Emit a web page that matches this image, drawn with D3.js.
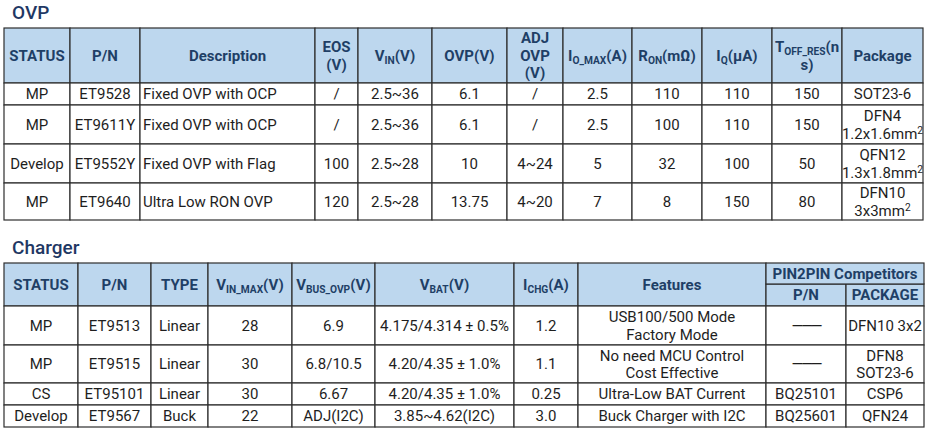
<!DOCTYPE html>
<html>
<head>
<meta charset="utf-8">
<script src="https://cdn.jsdelivr.net/npm/d3@7"></script>
<style>
  html, body { margin: 0; padding: 0; background: #fff; }
  svg { display: block; font-family: Roboto, "Open Sans", sans-serif; }
</style>
</head>
<body>
<div id="chart"></div>
<script>
// Tables OVP + Charger
// markup: _{..} = indice, ^{..} = exposant, \n = retour à la ligne

const ovpTitle = "OVP";
const ovpHeaders = [
  "STATUS", "P/N", "Description", "EOS\n(V)", "V_{IN}(V)", "OVP(V)",
  "ADJ\nOVP\n(V)", "I_{O_MAX}(A)", "R_{ON}(mΩ)", "I_{Q}(μA)", "T_{OFF_RES}(n\ns)", "Package"
];
const ovpRows = [
  ["MP", "ET9528", "Fixed OVP with OCP", "/", "2.5~36", "6.1", "/", "2.5", "110", "110", "150", "SOT23-6"],
  ["MP", "ET9611Y", "Fixed OVP with OCP", "/", "2.5~36", "6.1", "/", "2.5", "100", "110", "150", "DFN4\n1.2x1.6mm^{2}"],
  ["Develop", "ET9552Y", "Fixed OVP with Flag", "100", "2.5~28", "10", "4~24", "5", "32", "100", "50", "QFN12\n1.3x1.8mm^{2}"],
  ["MP", "ET9640", "Ultra Low RON OVP", "120", "2.5~28", "13.75", "4~20", "7", "8", "150", "80", "DFN10\n3x3mm^{2}"]
];

const chargerTitle = "Charger";
const chargerHeaders = [
  "STATUS", "P/N", "TYPE", "V_{IN_MAX}(V)", "V_{BUS_OVP}(V)", "V_{BAT}(V)",
  "I_{CHG}(A)", "Features", "P/N", "PACKAGE"
];
const chargerGroup = "PIN2PIN Competitors";
const chargerRows = [
  ["MP", "ET9513", "Linear", "28", "6.9", "4.175/4.314 ± 0.5%", "1.2", "USB100/500 Mode\nFactory Mode", "———", "DFN10 3x2"],
  ["MP", "ET9515", "Linear", "30", "6.8/10.5", "4.20/4.35 ± 1.0%", "1.1", "No need MCU Control\nCost Effective", "———", "DFN8\nSOT23-6"],
  ["CS", "ET95101", "Linear", "30", "6.67", "4.20/4.35 ± 1.0%", "0.25", "Ultra-Low BAT Current", "BQ25101", "CSP6"],
  ["Develop", "ET9567", "Buck", "22", "ADJ(I2C)", "3.85~4.62(I2C)", "3.0", "Buck Charger with I2C", "BQ25601", "QFN24"]
];

// --- mise en page ---
const width = 930, height = 435;
const ovpColEdges = [4, 70, 140, 315, 358, 432, 507, 563, 632, 702, 772, 842, 923];
const ovpRowEdges = [28, 83, 105, 144, 183, 220];
const chgColEdges = [4, 78, 151, 208, 292, 375, 514, 578, 766, 846, 924];
const chgRowEdges = [263, 306, 345, 383, 405, 427];
const chgSplitY = 284;

const headerFill = "#bdd7ee";
const headerText = "#1f3f66";
const bodyText = "#1e1e1e";
const lineColor = "#2e2e2e";
const fontSize = 15;
const lineH = 17.6;

const svg = d3.select("#chart").append("svg")
  .attr("width", width).attr("height", height);

// écrit un texte (un seul <text>) avec indices / exposants et retours à la ligne
function richText(g, str, x, yCenter, opts) {
  const lines = str.split("\n");
  const y0 = yCenter - (lines.length - 1) * lineH / 2 + fontSize * 0.355;
  const t = g.append("text")
    .attr("x", x)
    .attr("y", y0)
    .attr("text-anchor", opts.anchor || "middle")
    .attr("font-size", fontSize)
    .attr("font-weight", opts.bold ? 700 : 400)
    .attr("fill", opts.color);
  // tirets longs : trait continu
  if (/^—+$/.test(str)) t.attr("letter-spacing", -2);
  let shift = 0;
  lines.forEach((line, i) => {
    const parts = line.split(/([_^]\{[^}]*\})/).filter(p => p !== "");
    parts.forEach((p, j) => {
      const m = p.match(/^([_^])\{([^}]*)\}$/);
      const ts = t.append("tspan");
      let lead = 0;
      if (j === 0 && i > 0) {
        ts.attr("x", x);
        lead = lineH;
      }
      let dy;
      if (m) {
        const d = m[1] === "_" ? 3 : -5;
        dy = lead + d - shift;
        ts.attr("font-size", fontSize * 0.68).text(m[2]);
        shift = d;
      } else {
        dy = lead - shift;
        ts.text(p);
        shift = 0;
      }
      if (dy !== 0) ts.attr("dy", dy);
    });
  });
}

function cell(g, x0, x1, y0, y1, fill) {
  g.append("rect")
    .attr("x", x0).attr("y", y0)
    .attr("width", x1 - x0).attr("height", y1 - y0)
    .attr("fill", fill)
    .attr("stroke", lineColor)
    .attr("stroke-width", 1.2);
}

function title(text, y) {
  svg.append("text")
    .attr("x", 12).attr("y", y)
    .attr("font-size", 19)
    .attr("font-weight", 500)
    .attr("fill", "#1f3864")
    .text(text);
}

// ---------- OVP ----------
title(ovpTitle, 19);
const ovpX = d3.scaleOrdinal().domain(d3.range(ovpColEdges.length)).range(ovpColEdges);
const ovpY = d3.scaleOrdinal().domain(d3.range(ovpRowEdges.length)).range(ovpRowEdges);
const gOvp = svg.append("g");

ovpHeaders.forEach((h, c) => {
  cell(gOvp, ovpX(c), ovpX(c + 1), ovpY(0), ovpY(1), headerFill);
  richText(gOvp, h, (ovpX(c) + ovpX(c + 1)) / 2, (ovpY(0) + ovpY(1)) / 2,
    { bold: true, color: headerText });
});
ovpRows.forEach((row, r) => {
  row.forEach((v, c) => {
    const y0 = ovpY(r + 1), y1 = ovpY(r + 2);
    cell(gOvp, ovpX(c), ovpX(c + 1), y0, y1, "#fff");
    const left = ovpHeaders[c] === "Description";
    richText(gOvp, v, left ? ovpX(c) + 3 : (ovpX(c) + ovpX(c + 1)) / 2, (y0 + y1) / 2,
      { anchor: left ? "start" : "middle", color: bodyText });
  });
});

// ---------- Charger ----------
title(chargerTitle, 254);
const chgX = d3.scaleOrdinal().domain(d3.range(chgColEdges.length)).range(chgColEdges);
const chgY = d3.scaleOrdinal().domain(d3.range(chgRowEdges.length)).range(chgRowEdges);
const gChg = svg.append("g");
const nMain = chargerHeaders.length - 2;

chargerHeaders.forEach((h, c) => {
  const sub = c >= nMain;
  const y0 = sub ? chgSplitY : chgY(0);
  cell(gChg, chgX(c), chgX(c + 1), y0, chgY(1), headerFill);
  richText(gChg, h, (chgX(c) + chgX(c + 1)) / 2, (y0 + chgY(1)) / 2,
    { bold: true, color: headerText });
});
cell(gChg, chgX(nMain), chgX(nMain + 2), chgY(0), chgSplitY, headerFill);
richText(gChg, chargerGroup, (chgX(nMain) + chgX(nMain + 2)) / 2, (chgY(0) + chgSplitY) / 2,
  { bold: true, color: headerText });

chargerRows.forEach((row, r) => {
  row.forEach((v, c) => {
    const y0 = chgY(r + 1), y1 = chgY(r + 2);
    cell(gChg, chgX(c), chgX(c + 1), y0, y1, "#fff");
    richText(gChg, v, (chgX(c) + chgX(c + 1)) / 2, (y0 + y1) / 2,
      { color: bodyText });
  });
});
</script>
</body>
</html>
